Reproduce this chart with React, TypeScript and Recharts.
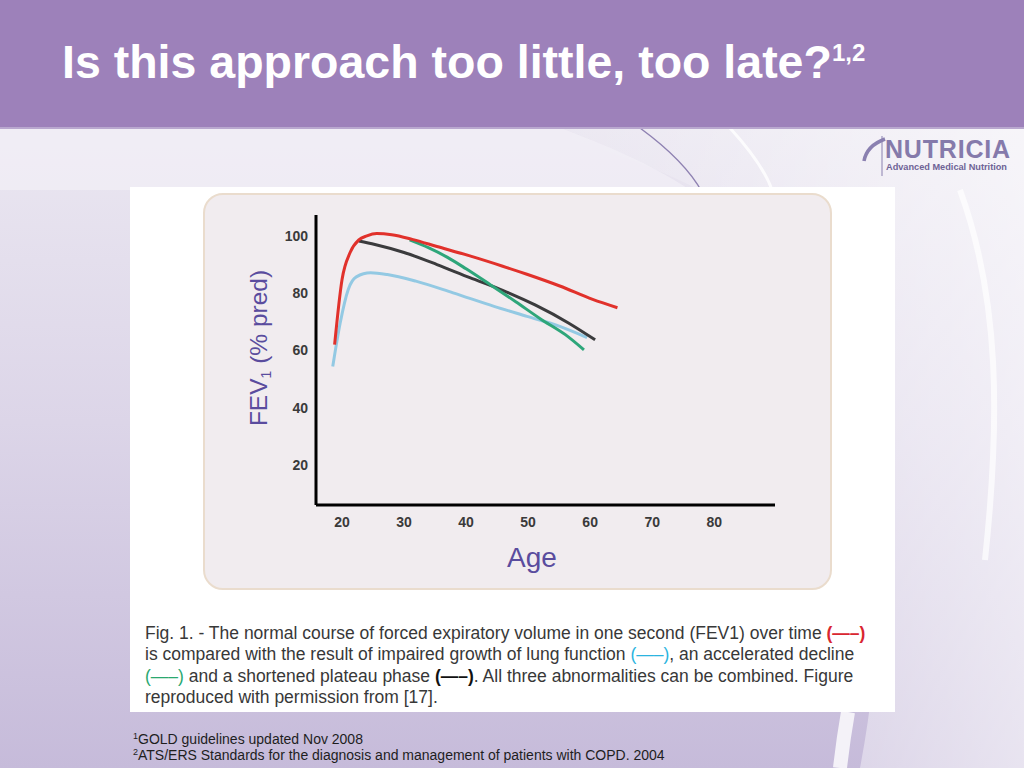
import { LineChart, Line, XAxis, YAxis, Label } from "recharts";

// ages (x) and FEV1 % predicted (y)
const normalAge = [18.8, 20, 21.3, 22.7, 24, 25.6, 28, 31.3, 35.3, 40.6, 45.9, 49.8, 55.1, 60.4, 64.4];
const normalFev = [62, 84.8, 94.2, 98.6, 100, 100.8, 100.4, 98.8, 96.3, 93, 89.4, 86.6, 82.5, 77.8, 74.9];

const impairedAge = [18.5, 19.7, 21, 22.3, 24.6, 27.3, 31.9, 37.9, 44.5, 49.8, 55.1, 59.5];
const impairedFev = [54.4, 69.6, 81.3, 85.7, 87.1, 86.5, 84.2, 80.1, 75.4, 71.9, 68.4, 64.5];

const acceleratedAge = [30.9, 34, 37, 40, 44, 48, 52, 56, 59];
const acceleratedFev = [98.6, 95.8, 92.5, 88.5, 82.8, 77, 71, 65.5, 60.2];

const plateauAge = [22.7, 25.3, 30, 35.3, 40.6, 45.9, 51.2, 56.5, 60.8];
const plateauFev = [98.2, 97, 94.2, 90, 85.4, 81, 75.8, 69.6, 63.7];

const xTicks = [20, 30, 40, 50, 60, 70, 80];
const yTicks = [20, 40, 60, 80, 100];

const toPoints = (ages: number[], fev: number[]) => ages.map((age, i) => ({ age, fev: fev[i] }));

const series = [
  { key: "impaired", color: "#93c9e3", data: toPoints(impairedAge, impairedFev) },
  { key: "plateau", color: "#3b3b3d", data: toPoints(plateauAge, plateauFev) },
  { key: "accelerated", color: "#2ea67a", data: toPoints(acceleratedAge, acceleratedFev) },
  { key: "normal", color: "#e1312b", data: toPoints(normalAge, normalFev) },
];

const FONT = "'Liberation Sans', Arial, sans-serif";
const tickStyle = { fill: "#3a3a3a", fontSize: 14, fontWeight: 700, fontFamily: FONT };
const labelColor = "#5a4c9e";

function Background() {
  return (
    <svg width={1024} height={768} style={{ position: "absolute", left: 0, top: 0 }}>
      <defs>
        <linearGradient id="bg" x1="0" y1="0" x2="0" y2="1">
          <stop offset="0%" stopColor="#f1eff5" />
          <stop offset="55%" stopColor="#dcd5e8" />
          <stop offset="100%" stopColor="#c6bbda" />
        </linearGradient>
        <linearGradient id="right" x1="0" y1="0" x2="1" y2="0">
          <stop offset="0%" stopColor="#ffffff" stopOpacity={0} />
          <stop offset="100%" stopColor="#ffffff" stopOpacity={0.6} />
        </linearGradient>
      </defs>
      <rect x={0} y={0} width={1024} height={768} fill="url(#bg)" />
      <path d="M520,128 L1024,128 L1024,768 L860,768 C900,560 880,330 700,190 C640,160 580,140 520,128 Z" fill="url(#right)" />
      <path d="M0,128 L560,128 C620,150 660,170 690,190 L0,190 Z" fill="#f2f0f6" opacity={0.7} />
      <path d="M640,128 C670,150 690,170 702,192" stroke="#8f82b2" strokeWidth={1.5} fill="none" />
      <path d="M730,128 C750,150 765,170 772,190" stroke="#ffffff" strokeWidth={3} fill="none" opacity={0.8} />
      <path d="M960,190 C1000,300 1000,420 985,560" stroke="#ffffff" strokeWidth={6} fill="none" opacity={0.7} />
      <path d="M848,712 C844,735 842,750 840,768" stroke="#ffffff" strokeWidth={14} fill="none" opacity={0.8} />
      <rect x={0} y={0} width={1024} height={127} fill="#9d81ba" />
      <rect x={0} y={127} width={1024} height={2} fill="#b9a8cf" />
    </svg>
  );
}

function Logo() {
  return (
    <svg width={170} height={50} style={{ position: "absolute", left: 854, top: 130 }}>
      <path d="M31,9 C20,13 12,20 10,31" stroke="#8a80b0" strokeWidth={3.5} fill="none" />
      <line x1={28} y1={6} x2={28} y2={46} stroke="#8a80b0" strokeWidth={1} />
      <text x={31} y={28} fontFamily={FONT} fontWeight={700} fontSize={25} fill="#857aab" letterSpacing={0.8}>
        NUTRICIA
      </text>
      <text x={32} y={40} fontFamily={`'Liberation Sans Narrow', ${FONT}`} fontWeight={700} fontSize={9.2} fill="#6e6396">
        Advanced Medical Nutrition
      </text>
    </svg>
  );
}

const mark = (color: string, bold = false) => (
  <span style={{ color, fontWeight: bold ? 700 : 400 }}>(—–)</span>
);

const supStyle = { fontSize: 9, position: "relative" as const, top: -5, lineHeight: 0 };

export default function App() {
  return (
    <div style={{ position: "absolute", left: 0, top: 0, width: 1024, height: 768, overflow: "hidden", fontFamily: FONT }}>
      <Background />
      <div style={{ position: "absolute", left: 62, top: 36, color: "#ffffff", fontSize: 46.5, fontWeight: 700, lineHeight: "52px", whiteSpace: "nowrap" }}>
        Is this approach too little, too late?<span style={{ fontSize: 24, position: "relative", top: -17, lineHeight: 0 }}>1,2</span>
      </div>
      <Logo />

      <div style={{ position: "absolute", left: 130, top: 187, width: 765, height: 525, background: "#ffffff" }} />
      <div style={{ position: "absolute", left: 203, top: 193, width: 625, height: 393, background: "#f1ecef", border: "2px solid #eadccd", borderRadius: 20 }} />

      <div style={{ position: "absolute", left: 203, top: 193 }}>
        <LineChart width={629} height={397} margin={{ top: 22, right: 57, left: 0, bottom: 15 }}>
          <XAxis
            type="number"
            dataKey="age"
            domain={[15.8, 89.8]}
            ticks={xTicks}
            allowDataOverflow
            height={70}
            tickLine={false}
            tickSize={0}
            tickMargin={12}
            axisLine={{ stroke: "#000000", strokeWidth: 3 }}
            tick={tickStyle}
          >
            <Label
              content={({ viewBox }: any) => (
                <text x={viewBox.x + 216} y={viewBox.y + 62} textAnchor="middle" fill={labelColor} fontSize={28} fontFamily={FONT}>
                  Age
                </text>
              )}
            />
          </XAxis>
          <YAxis
            type="number"
            domain={[6, 107.3]}
            ticks={yTicks}
            allowDataOverflow
            width={113}
            tickLine={false}
            tickSize={0}
            tickMargin={8}
            axisLine={{ stroke: "#000000", strokeWidth: 3 }}
            tick={tickStyle}
          >
            <Label
              content={({ viewBox }: any) => {
                const cx = viewBox.x + 64;
                const cy = viewBox.y + viewBox.height / 2 - 12;
                return (
                  <text x={cx} y={cy} textAnchor="middle" transform={`rotate(-90 ${cx} ${cy})`} fill={labelColor} fontSize={24.5} fontFamily={FONT}>
                    <tspan>FEV</tspan>
                    <tspan fontSize={14} dy={4}>1</tspan>
                    <tspan dy={-4}> (% pred)</tspan>
                  </text>
                );
              }}
            />
          </YAxis>
          {series.map((s) => (
            <Line
              key={s.key}
              data={s.data}
              dataKey="fev"
              type="monotone"
              stroke={s.color}
              strokeWidth={3}
              dot={false}
              activeDot={false}
              isAnimationActive={false}
            />
          ))}
        </LineChart>
      </div>

      <div style={{ position: "absolute", left: 145, top: 623, fontSize: 17.5, lineHeight: "21.3px", color: "#383838", whiteSpace: "nowrap" }}>
        <div>Fig. 1. - The normal course of forced expiratory volume in one second (FEV1) over time {mark("#d92630", true)}</div>
        <div>is compared with the result of impaired growth of lung function {mark("#2bb4e0")}, an accelerated decline</div>
        <div>{mark("#2aa870")} and a shortened plateau phase {mark("#111111", true)}. All three abnormalities can be combined. Figure</div>
        <div>reproduced with permission from [17].</div>
      </div>

      <div style={{ position: "absolute", left: 133, top: 731, fontSize: 14, lineHeight: "16px", color: "#1e1e1e", whiteSpace: "nowrap" }}>
        <div><span style={supStyle}>1</span>GOLD guidelines updated Nov 2008</div>
        <div><span style={supStyle}>2</span>ATS/ERS Standards for the diagnosis and management of patients with COPD. 2004</div>
      </div>
    </div>
  );
}
